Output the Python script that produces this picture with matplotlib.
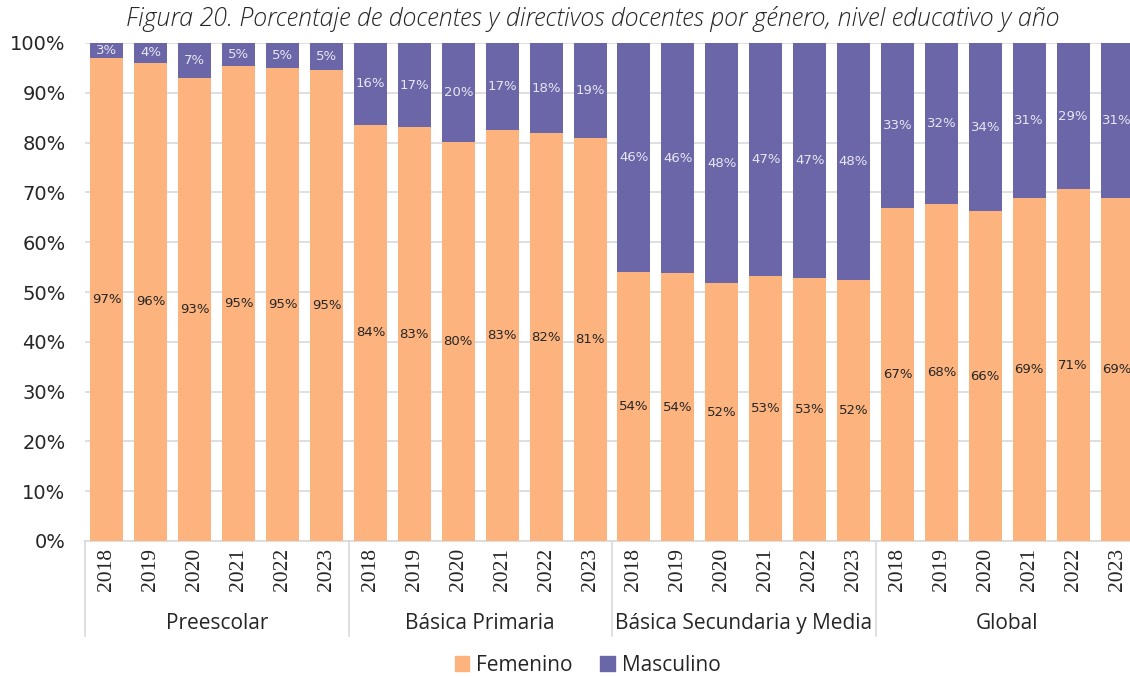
import numpy as np
import matplotlib.pyplot as plt
import matplotlib.transforms as mtransforms
from matplotlib.patches import Patch

# data
niveles = ['Preescolar', 'Básica Primaria', 'Básica Secundaria y Media', 'Global']
anios = ['2018', '2019', '2020', '2021', '2022', '2023']

femenino = [
    97.0, 96.0, 93.0, 95.4, 95.0, 94.6,   # Preescolar
    83.6, 83.1, 80.1, 82.6, 81.9, 80.9,   # Básica Primaria
    54.0, 53.8, 51.8, 53.2, 52.8, 52.4,   # Básica Secundaria y Media
    66.8, 67.7, 66.2, 68.9, 70.6, 68.9,   # Global
]
masculino = [100 - v for v in femenino]

col_fem = '#FCB37E'
col_masc = '#6B66A8'

fig = plt.figure(figsize=(11.3, 6.77), dpi=100)
# axes runs a bit past the right edge, like the reference (clipped)
ax = fig.add_axes([85 / 1130, 136 / 677, 1054 / 1130, 498 / 677])

x = np.arange(len(femenino))
ax.bar(x, femenino, width=0.75, color=col_fem, zorder=3)
ax.bar(x, masculino, width=0.75, bottom=femenino, color=col_masc, zorder=3)

for i in range(len(x)):
    ax.text(x[i], femenino[i] / 2, f'{round(femenino[i])}%', ha='center', va='center',
            fontsize=9.5, color='#262626', zorder=4)
    ax.text(x[i], femenino[i] + masculino[i] / 2, f'{round(masculino[i])}%', ha='center',
            va='center', fontsize=9.5, color='#E8E6F2', zorder=4)

ax.set_xlim(-0.5, len(x) - 0.5)
ax.set_ylim(0, 100)
ax.set_yticks(np.arange(0, 101, 10))
ax.set_yticklabels([f'{v}%' for v in range(0, 101, 10)], fontsize=14, color='#262626')
ax.yaxis.grid(True, color='#D9D9D9', linewidth=1.2, zorder=0)
ax.tick_params(axis='y', length=0, pad=14)
ax.set_xticks([])
for s in ['top', 'right', 'left']:
    ax.spines[s].set_visible(False)
ax.spines['bottom'].set_color('#D9D9D9')
ax.spines['bottom'].set_linewidth(1.2)

# two-level category axis
trans = mtransforms.blended_transform_factory(ax.transData, ax.transAxes)
for i in range(len(x)):
    ax.text(x[i], -0.014, anios[i % 6], rotation=90, ha='center', va='top',
            fontsize=15.5, family='Liberation Serif', color='#262626', transform=trans)
for g, nivel in enumerate(niveles):
    ax.text(g * 6 + 2.5, -0.165, nivel, ha='center', va='center', fontsize=15,
            family='Open Sans', color='#262626', transform=trans)
    ax.plot([g * 6 - 0.5, g * 6 - 0.5], [0, -0.19], color='#D9D9D9', lw=1.2,
            transform=trans, clip_on=False)

fig.text(0.525, 0.972, 'Figura 20. Porcentaje de docentes y directivos docentes por género, nivel educativo y año',
         ha='center', va='center', fontsize=18, style='italic', family='Open Sans',
         weight='light', color='#262626')

handles = [Patch(color=col_fem, label='Femenino'), Patch(color=col_masc, label='Masculino')]
fig.legend(handles=handles, loc='center', bbox_to_anchor=(0.52, 0.017), ncol=2, frameon=False,
           prop={'family': 'Open Sans', 'size': 15}, handlelength=0.7, handleheight=0.7,
           handletextpad=0.35, columnspacing=1.3, labelcolor='#262626')

fig.savefig('out.png', dpi=100)
